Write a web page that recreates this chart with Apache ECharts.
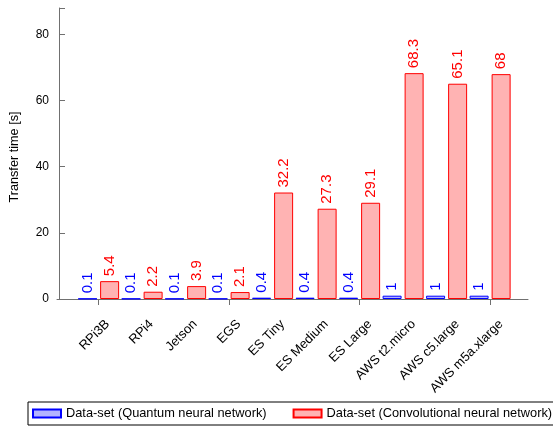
<!DOCTYPE html>
<html>
<head>
<meta charset="utf-8">
<script src="https://cdn.jsdelivr.net/npm/echarts@6/dist/echarts.min.js"></script>
<style>html,body{margin:0;padding:0;background:#fff}#c{width:553px;height:427px}</style>
</head>
<body>
<div id="c"></div>
<script>
const categories = ['RPi3B','RPi4','Jetson','EGS','ES Tiny','ES Medium','ES Large','AWS t2.micro','AWS c5.large','AWS m5a.xlarge'];
const qnnValues = [0.1,0.1,0.1,0.1,0.4,0.4,0.4,1,1,1];
const cnnValues = [5.4,2.2,3.9,2.1,32.2,27.3,29.1,68.3,65.1,68];
const yTicks = [0,20,40,60,80];
const seriesNames = ['Data-set (Quantum neural network)','Data-set (Convolutional neural network)'];

const FONT = 'Liberation Sans, Arial, Helvetica, sans-serif';
const chart = echarts.init(document.getElementById('c'), null, {renderer:'canvas'});
const axisGrey = '#707070';
const labelFor = (color) => ({
  show: true, position: 'top', rotate: 90, align: 'left', verticalAlign: 'middle',
  distance: 5, color: color, fontSize: 15, fontFamily: FONT
});
chart.setOption({
  animation: false,
  textStyle: {fontFamily: FONT},
  grid: [
    {left: 57, right: 25, top: 8, bottom: 128},
    {left: 74.85, right: 41.15, top: 8, bottom: 128},
    {left: 85.85, right: 30.15, top: 8, bottom: 128}
  ],
  xAxis: [
    {gridIndex: 0, type: 'value', min: 0, max: 1,
     axisLine: {show: true, lineStyle: {color: axisGrey, width: 1}},
     axisTick: {show: false}, axisLabel: {show: false}, splitLine: {show: false}},
    {gridIndex: 1, type: 'category', data: categories,
     axisLine: {show: false},
     axisTick: {show: true, alignWithLabel: true, inside: false, length: 6, lineStyle: {color: axisGrey}},
     axisLabel: {show: false}},
    {gridIndex: 2, type: 'category', data: categories,
     axisLine: {show: false}, axisTick: {show: false},
     axisLabel: {rotate: 45, interval: 0, margin: 23, color: '#000', fontSize: 13, fontFamily: FONT}}
  ],
  yAxis: [
    {gridIndex: 0, type: 'value', min: 0, max: 88, show: false},
    {gridIndex: 1, type: 'value', min: 0, max: 88, interval: 20, offset: 17.85,
     name: 'Transfer time [s]', nameLocation: 'middle', nameGap: 38, nameRotate: 90,
     nameTextStyle: {color: '#000', fontSize: 12.7, fontFamily: FONT, padding: [0, 7, 0, 0]},
     axisLine: {show: true, lineStyle: {color: axisGrey, width: 1}},
     axisTick: {show: true, inside: true, length: 6, lineStyle: {color: axisGrey}},
     axisLabel: {color: '#000', fontSize: 12, margin: 10, fontFamily: FONT,
       formatter: v => yTicks.includes(v) ? String(v) : ''},
     splitLine: {show: false}},
    {gridIndex: 2, type: 'value', min: 0, max: 88, show: false}
  ],
  legend: {
    left: 28, top: 402, width: 540,
    padding: [5, 3, 5, 4],
    itemWidth: 28, itemHeight: 8, itemGap: 26,
    icon: 'rect',
    borderColor: '#000', borderWidth: 1, borderRadius: 0,
    textStyle: {color: '#000', fontSize: 12.8, fontFamily: FONT},
    data: seriesNames
  },
  series: [
    {name: seriesNames[0], type: 'bar', xAxisIndex: 1, yAxisIndex: 1, data: qnnValues,
     barWidth: 19, barGap: '16%',
     itemStyle: {color: '#b3b3ff', borderColor: '#0000ff', borderWidth: 1},
     label: labelFor('#0000ff')},
    {name: seriesNames[1], type: 'bar', xAxisIndex: 1, yAxisIndex: 1, data: cnnValues,
     barWidth: 19, barGap: '16%',
     itemStyle: {color: '#ffb3b3', borderColor: '#ff0000', borderWidth: 1},
     label: labelFor('#ff0000')}
  ]
});
</script>
</body>
</html>
